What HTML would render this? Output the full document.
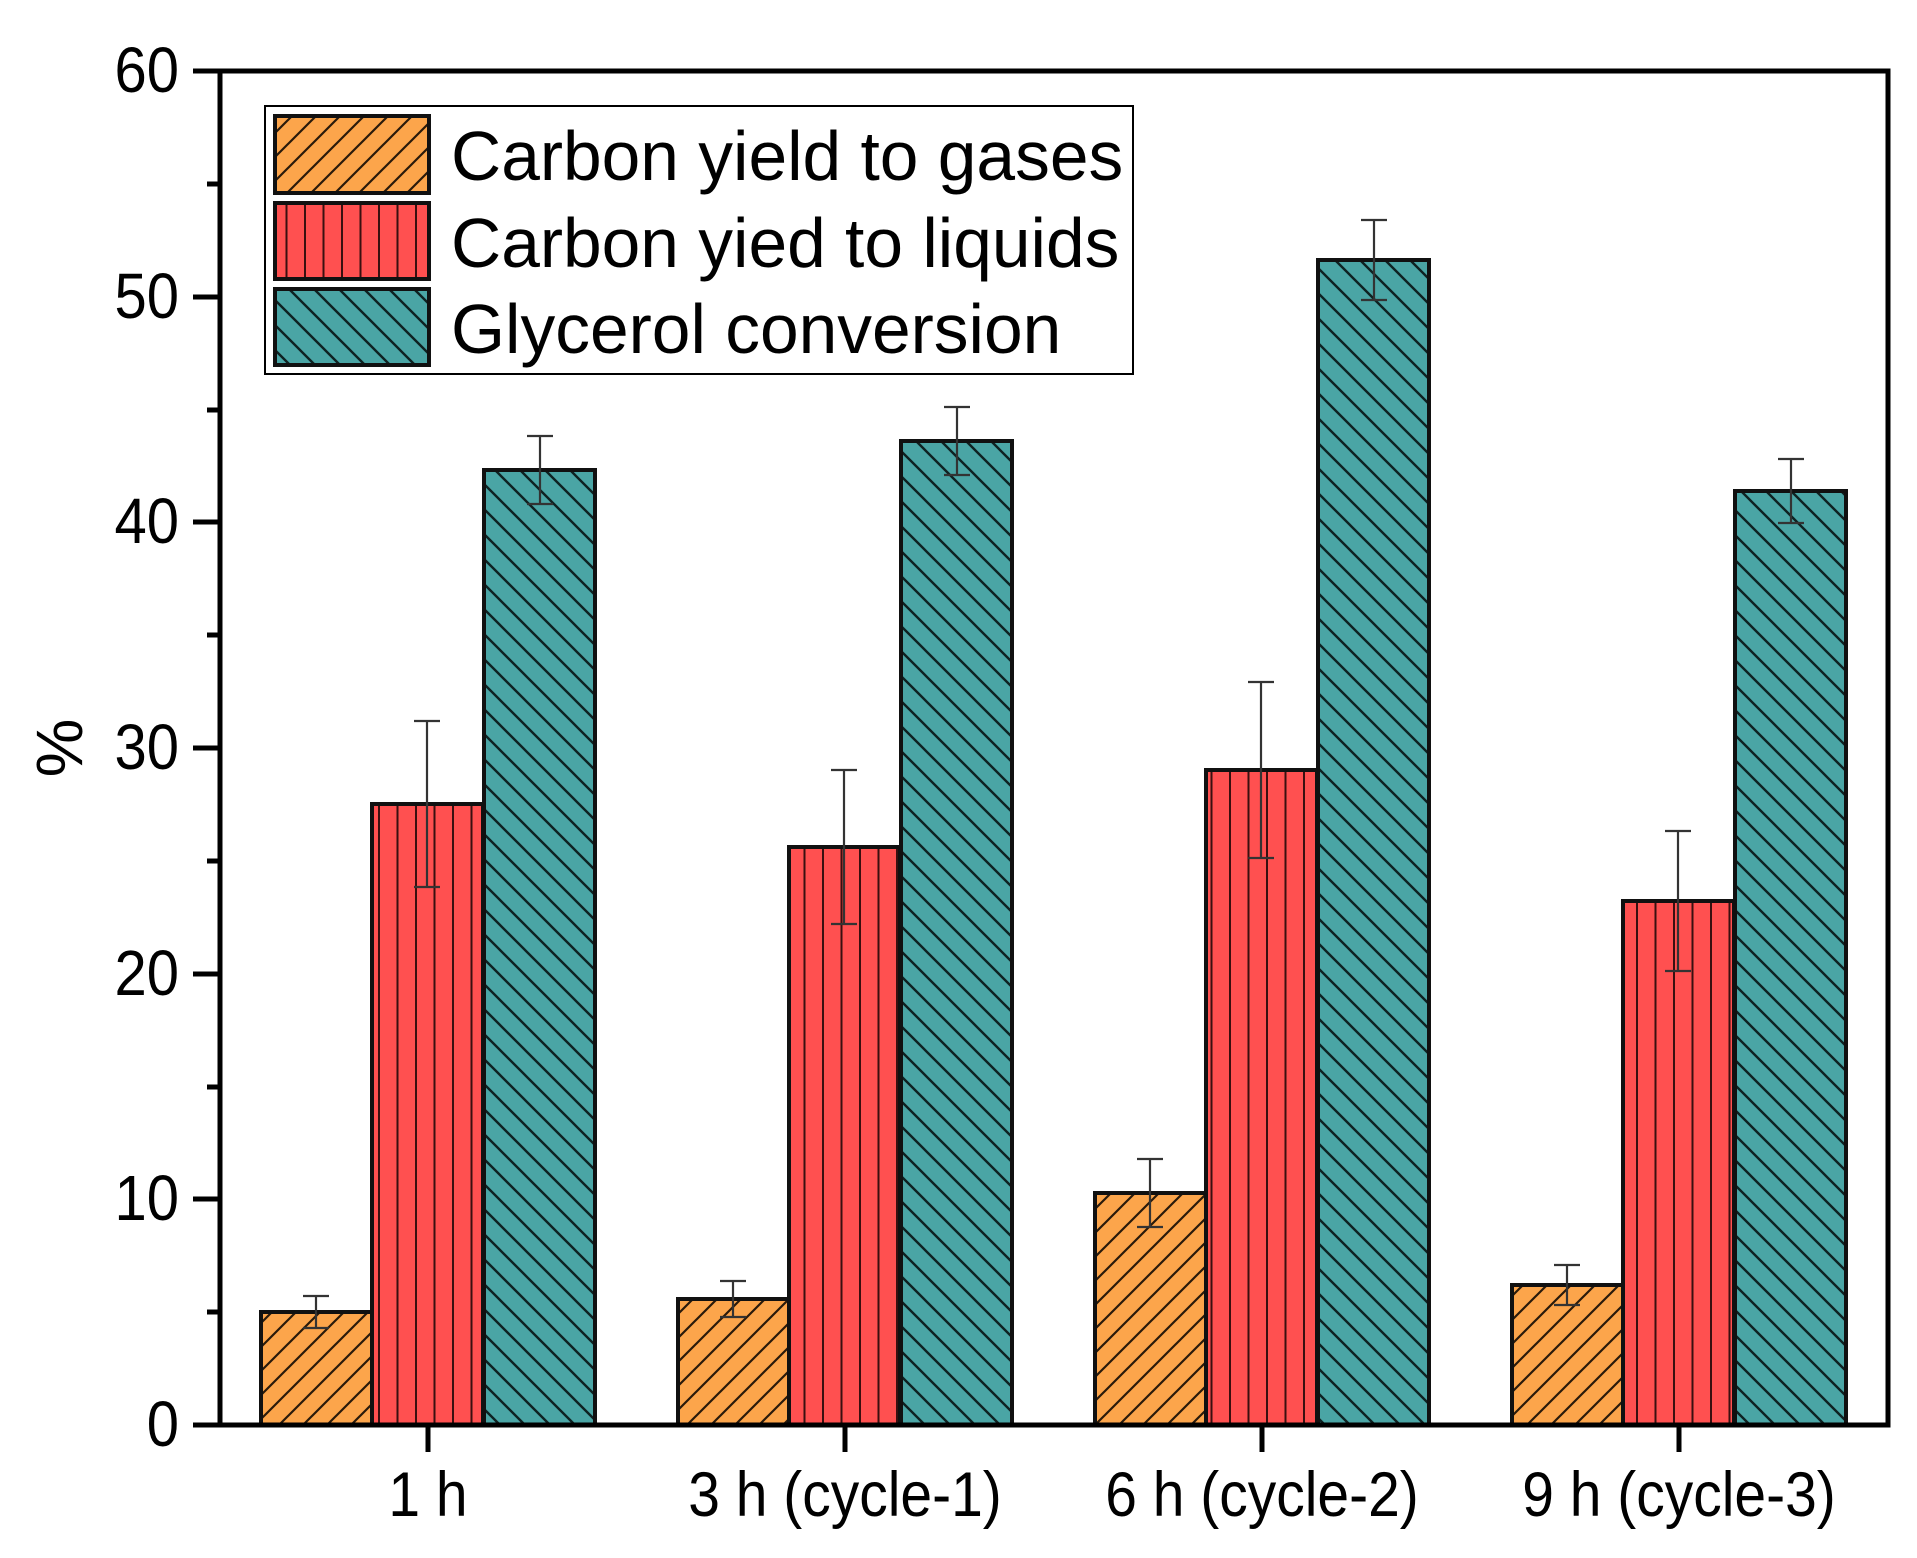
<!DOCTYPE html>
<html><head><meta charset="utf-8"><style>html,body{margin:0;padding:0;background:#fff}svg{display:block}</style></head>
<body>
<svg width="1917" height="1558" viewBox="0 0 1917 1558" xmlns="http://www.w3.org/2000/svg" font-family="Liberation Sans, Arial, sans-serif">
<defs>
<pattern id="po" patternUnits="userSpaceOnUse" width="24" height="24">
<rect width="24" height="24" fill="#FCA54B"/>
<path d="M-6,6 L6,-6 M0,24 L24,0 M18,30 L30,18" stroke="#2a1a0a" stroke-width="2.2"/>
</pattern>
<pattern id="pr" patternUnits="userSpaceOnUse" width="18.5" height="20">
<rect width="18.5" height="20" fill="#FF5050"/>
<path d="M9,0 L9,20" stroke="#3a1010" stroke-width="2"/>
</pattern>
<pattern id="pt" patternUnits="userSpaceOnUse" width="25" height="25">
<rect width="25" height="25" fill="#4AA5A5"/>
<path d="M-6,-6 L31,31 M-6,19 L6,31 M19,-6 L31,6" stroke="#0e2222" stroke-width="2.4"/>
</pattern>
</defs>
<g stroke="#111" stroke-width="4">
<rect x="261" y="1312" width="111" height="113" fill="url(#po)"/>
<rect x="372" y="804" width="111" height="621" fill="url(#pr)"/>
<rect x="484" y="470" width="111" height="955" fill="url(#pt)"/>
<rect x="678" y="1299" width="111" height="126" fill="url(#po)"/>
<rect x="789" y="847" width="111" height="578" fill="url(#pr)"/>
<rect x="901" y="441" width="111" height="984" fill="url(#pt)"/>
<rect x="1095" y="1193" width="111" height="232" fill="url(#po)"/>
<rect x="1206" y="770" width="111" height="655" fill="url(#pr)"/>
<rect x="1318" y="260" width="111" height="1165" fill="url(#pt)"/>
<rect x="1512" y="1285" width="111" height="140" fill="url(#po)"/>
<rect x="1623" y="901" width="111" height="524" fill="url(#pr)"/>
<rect x="1735" y="491" width="111" height="934" fill="url(#pt)"/>
</g>
<g stroke="#333" stroke-width="2.2" fill="none">
<path d="M316,1296V1328M303,1296H329M303,1328H329"/>
<path d="M427,721V887M414,721H440M414,887H440"/>
<path d="M540,436V504M527,436H553M527,504H553"/>
<path d="M733,1281V1317M720,1281H746M720,1317H746"/>
<path d="M844,770V924M831,770H857M831,924H857"/>
<path d="M957,407V475M944,407H970M944,475H970"/>
<path d="M1150,1159V1227M1137,1159H1163M1137,1227H1163"/>
<path d="M1261,682V858M1248,682H1274M1248,858H1274"/>
<path d="M1374,220V300M1361,220H1387M1361,300H1387"/>
<path d="M1567,1265V1305M1554,1265H1580M1554,1305H1580"/>
<path d="M1678,831V971M1665,831H1691M1665,971H1691"/>
<path d="M1791,459V523M1778,459H1804M1778,523H1804"/>
</g>
<rect x="220" y="71" width="1668" height="1354" fill="none" stroke="#000" stroke-width="5"/>
<g stroke="#000" stroke-width="5">
<path d="M193,71H220M193,297H220M193,522H220M193,748H220M193,974H220M193,1199H220M193,1425H220"/>
<path d="M207,184H220M207,410H220M207,635H220M207,861H220M207,1087H220M207,1312H220"/>
<path d="M428,1425V1452M845,1425V1452M1262,1425V1452M1679,1425V1452"/>
</g>
<g font-size="58" text-anchor="end" fill="#000">
<text x="179" y="92" transform="translate(0,92) scale(1,1.1) translate(0,-92)">60</text>
<text x="179" y="318" transform="translate(0,318) scale(1,1.1) translate(0,-318)">50</text>
<text x="179" y="543" transform="translate(0,543) scale(1,1.1) translate(0,-543)">40</text>
<text x="179" y="769" transform="translate(0,769) scale(1,1.1) translate(0,-769)">30</text>
<text x="179" y="995" transform="translate(0,995) scale(1,1.1) translate(0,-995)">20</text>
<text x="179" y="1220" transform="translate(0,1220) scale(1,1.1) translate(0,-1220)">10</text>
<text x="179" y="1446" transform="translate(0,1446) scale(1,1.1) translate(0,-1446)">0</text>
</g>
<g font-size="57" text-anchor="middle" fill="#000" transform="translate(0,1516) scale(1,1.1) translate(0,-1516)">
<text x="428" y="1516">1 h</text>
<text x="845" y="1516">3 h (cycle-1)</text>
<text x="1262" y="1516">6 h (cycle-2)</text>
<text x="1679" y="1516">9 h (cycle-3)</text>
</g>
<text transform="translate(82,748) rotate(-90)" font-size="66" text-anchor="middle">%</text>
<rect x="265" y="106" width="868" height="268" fill="#fff" stroke="#000" stroke-width="2"/>
<g stroke="#111" stroke-width="4">
<rect x="275" y="116" width="154" height="77" fill="url(#po)"/>
<rect x="275" y="203" width="154" height="76" fill="url(#pr)"/>
<rect x="275" y="289" width="154" height="76" fill="url(#pt)"/>
</g>
<g font-size="69.5" fill="#000">
<text x="451" y="180">Carbon yield to gases</text>
<text x="451" y="267">Carbon yied to liquids</text>
<text x="451" y="353">Glycerol conversion</text>
</g>
</svg>
</body></html>
